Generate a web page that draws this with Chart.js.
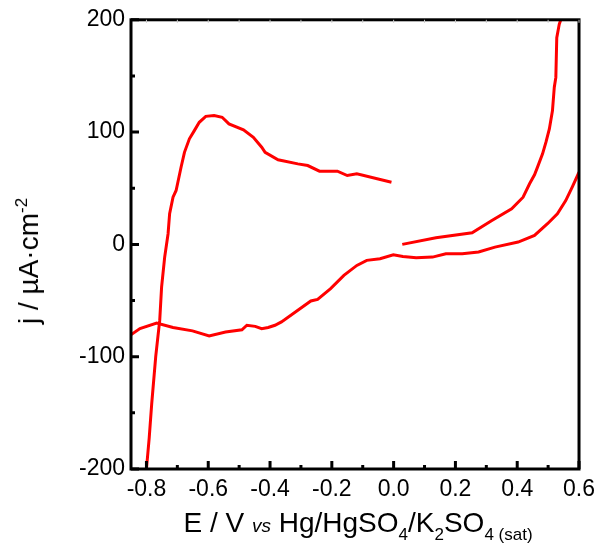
<!DOCTYPE html>
<html>
<head>
<meta charset="utf-8">
<script src="https://cdn.jsdelivr.net/npm/chart.js@4/dist/chart.umd.min.js"></script>
<style>
  html, body { margin: 0; padding: 0; background: #fff; }
  #wrap { position: relative; width: 602px; height: 544px; }
  #c { position: absolute; left: 0; top: 0; }
  .ttl { position: absolute; font-family: 'Liberation Sans', Arial, sans-serif; font-size: 28px; color: #000; white-space: nowrap; line-height: 28px; }
  #xt { left: 358px; top: 509px; transform: translateX(-50%); }
  #yt { left: 31px; top: 261px; transform: translate(-50%, -50%) rotate(-90deg); }
  .ttl .vs { font-style: italic; font-size: 19px; }
  .ttl .sb { font-size: 17px; position: relative; top: 8px; }
  .ttl .sp { font-size: 17px; position: relative; top: -11px; }
</style>
</head>
<body>
<div id="wrap">
  <canvas id="c" width="602" height="544"></canvas>
  <div class="ttl" id="xt">E / V <span class="vs">vs</span> Hg/HgSO<span class="sb">4</span>/K<span class="sb">2</span>SO<span class="sb">4 (sat)</span></div>
  <div class="ttl" id="yt">j / µA·cm<span class="sp">-2</span></div>
</div>
<script>
// ============================================================
// DATA
// ============================================================
const xTicks = [-0.8, -0.6, -0.4, -0.2, 0.0, 0.2, 0.4, 0.6];
const xMinor = [-0.7, -0.5, -0.3, -0.1, 0.1, 0.3, 0.5];
const yTicks = [-200, -100, 0, 100, 200];
const yMinor = [-150, -50, 50, 150];

// cathodic sweep, left edge -> right edge
const e1 = [-0.853, -0.821, -0.767, -0.714, -0.651, -0.597, -0.544, -0.491, -0.475, -0.448, -0.427, -0.406, -0.384,
  -0.363, -0.31, -0.268, -0.246, -0.204, -0.161, -0.119, -0.087, -0.044, -0.001, 0.03, 0.073, 0.126, 0.169, 0.222,
  0.275, 0.328, 0.403, 0.456, 0.498, 0.53, 0.557, 0.578, 0.6];
const j1 = [-81, -75, -70, -74, -77, -81.5, -78, -76, -72, -73, -75, -74, -72,
  -69, -58.7, -50.4, -49, -39.4, -27.6, -18.7, -14.2, -12.7, -9.2, -10.7, -11.9, -11.3, -8.3, -8.3,
  -6.8, -2.4, 2.1, 8, 18.4, 27.3, 39, 51, 64.3];

// anodic branch from 0 V up to the top
const e2 = [0.028, 0.137, 0.254, 0.318, 0.382, 0.419, 0.44, 0.456, 0.466, 0.482, 0.493, 0.504, 0.514, 0.52, 0.525, 0.528, 0.536, 0.541];
const j2 = [0, 6, 10.4, 21.3, 31.7, 42, 54, 62, 69, 80.6, 91, 102.8, 119, 140, 148.7, 184, 196, 200];

// branch from 0 V back over the peak down to the bottom
const e3 = [-0.007, -0.119, -0.15, -0.182, -0.24, -0.278, -0.31, -0.374, -0.416, -0.427, -0.454, -0.486, -0.533, -0.555,
  -0.581, -0.608, -0.629, -0.645, -0.661, -0.677, -0.688, -0.704, -0.714, -0.725, -0.73, -0.741, -0.751, -0.757,
  -0.77, -0.783, -0.791, -0.80];
const j3 = [55.4, 62.8, 61.3, 65.2, 65.2, 70.2, 71.7, 75.3, 82, 86.5, 95.4, 102, 107.3, 113.2,
  114.7, 114, 108.7, 101.3, 94, 82, 68.7, 48, 42, 27.3, 9.5, -11.3, -38, -67.5,
  -100, -142, -172, -200];

// ============================================================
// CHART
// ============================================================
const pts = (xs, ys) => xs.map((x, i) => ({ x, y: ys[i] }));
const lineDs = (xs, ys) => ({
  data: pts(xs, ys), showLine: true, borderColor: '#ff0000', borderWidth: 3,
  pointRadius: 0, tension: 0, fill: false,
});

// frame + inward ticks
const frameTicks = {
  id: 'frameTicks',
  afterDraw(chart) {
    const { ctx, chartArea: { left, right, top, bottom }, scales: { x, y } } = chart;
    ctx.save();
    ctx.strokeStyle = '#000';
    ctx.lineWidth = 3;
    ctx.strokeRect(left, top, right - left, bottom - top);
    ctx.beginPath();
    xTicks.forEach(v => { const px = x.getPixelForValue(v); ctx.moveTo(px, bottom); ctx.lineTo(px, bottom - 8); });
    xMinor.forEach(v => { const px = x.getPixelForValue(v); ctx.moveTo(px, bottom); ctx.lineTo(px, bottom - 4); });
    yTicks.forEach(v => { const py = y.getPixelForValue(v); ctx.moveTo(left, py); ctx.lineTo(left + 8, py); });
    yMinor.forEach(v => { const py = y.getPixelForValue(v); ctx.moveTo(left, py); ctx.lineTo(left + 4, py); });
    ctx.stroke();
    // faint marks on the top edge
    ctx.strokeStyle = '#c8c8c8';
    ctx.lineWidth = 1;
    ctx.beginPath();
    xTicks.concat(xMinor).forEach(v => { const px = x.getPixelForValue(v); ctx.moveTo(px, top); ctx.lineTo(px, top + 3); });
    ctx.stroke();
    ctx.restore();
  }
};

const tickFont = { size: 23, family: "'Liberation Sans', Arial, sans-serif" };

new Chart(document.getElementById('c').getContext('2d'), {
  type: 'scatter',
  data: { datasets: [lineDs(e1, j1), lineDs(e2, j2), lineDs(e3, j3)] },
  options: {
    responsive: false, animation: false,
    layout: { padding: { top: 19, right: 17, left: 0, bottom: 0 } },
    plugins: { legend: { display: false }, tooltip: { enabled: false } },
    scales: {
      x: {
        type: 'linear', min: -0.85, max: 0.6,
        grid: { display: false, drawTicks: false }, border: { display: false },
        afterBuildTicks: s => { s.ticks = xTicks.map(v => ({ value: v })); },
        afterFit: s => { s.height = 75; },
        ticks: { color: '#000', font: tickFont, padding: 7, maxRotation: 0, autoSkip: false,
          callback: v => v.toFixed(1) },
      },
      y: {
        type: 'linear', min: -200, max: 200,
        grid: { display: false, drawTicks: false }, border: { display: false },
        afterBuildTicks: s => { s.ticks = yTicks.map(v => ({ value: v })); },
        afterFit: s => { s.width = 131; },
        ticks: { color: '#000', font: tickFont, padding: 6, autoSkip: false },
      },
    },
  },
  plugins: [frameTicks],
});
</script>
</body>
</html>
